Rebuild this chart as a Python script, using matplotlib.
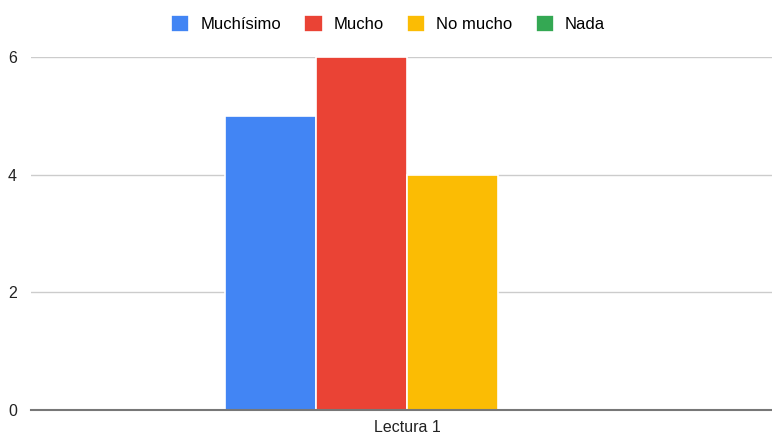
import matplotlib.pyplot as plt
import numpy as np

plt.rcParams['font.family'] = ['Liberation Sans', 'DejaVu Sans']

# datos
categorias = ["Lectura 1"]
series = ["Muchísimo", "Mucho", "No mucho", "Nada"]
valores = [5, 6, 4, 0]
colores = ["#4285F4", "#EA4335", "#FBBC04", "#34A853"]

fig = plt.figure(figsize=(7.72, 4.37), dpi=100)
ax = fig.add_axes([31 / 772, 27 / 437, 741 / 772, 353 / 437])

# barras
ancho = 0.121
x = np.arange(len(categorias))
desplazamientos = (np.arange(len(series)) - 1.5) * ancho
for serie, val, col, d in zip(series, valores, colores, desplazamientos):
    ax.bar(x + d, [val], width=ancho, color=col, edgecolor="white",
           linewidth=1.2, label=serie, zorder=3)

# presentación
ax.set_xlim(-0.5, 0.485)
ax.set_ylim(0, 6)
ax.set_yticks([0, 2, 4, 6])
ax.set_xticks(x)
ax.set_xticklabels(categorias)
ax.grid(axis="y", color="#cccccc", linewidth=1, zorder=0)
for lado in ["top", "right", "left"]:
    ax.spines[lado].set_visible(False)
ax.spines["bottom"].set_color("#777777")
ax.spines["bottom"].set_linewidth(1.5)
ax.spines["bottom"].set_zorder(4)
ax.tick_params(axis="both", length=0, labelsize=11.5, colors="#222222")
ax.tick_params(axis="y", pad=10)
ax.tick_params(axis="x", pad=7)

fig.legend(loc="upper center", bbox_to_anchor=(388 / 772, 1.0), ncol=4,
           frameon=False, fontsize=12, handlelength=1.1, handleheight=1.2,
           handletextpad=0.65, columnspacing=1.4, borderaxespad=0.5)

fig.savefig("out.png", dpi=100)
